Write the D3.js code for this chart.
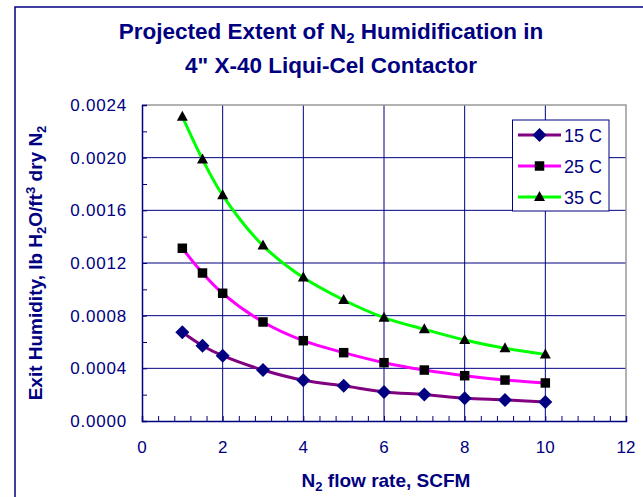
<!DOCTYPE html>
<html><head><meta charset="utf-8">
<script src="https://cdn.jsdelivr.net/npm/d3@7"></script>
<style>
html,body{margin:0;padding:0;background:#fff;}
svg{display:block;font-family:Arial,"Liberation Sans",sans-serif;}
</style></head>
<body>
<svg id="c" width="643" height="497"></svg>
<script>
const flowRates = [1, 1.5, 2, 3, 4, 5, 6, 7, 8, 9, 10];
const seriesNames = ["15 C", "25 C", "35 C"];
const humid15 = [0.000674, 0.000572, 0.000496, 0.000387, 0.000309, 0.000267, 0.000221, 0.000201, 0.000173, 0.000160, 0.000144];
const humid25 = [0.001312, 0.001124, 0.000970, 0.000752, 0.000610, 0.000519, 0.000443, 0.000387, 0.000344, 0.000311, 0.000289];
const humid35 = [0.002311, 0.001987, 0.001714, 0.001332, 0.001089, 0.000919, 0.000785, 0.000696, 0.000615, 0.000552, 0.000506];
const xTicks = [0, 2, 4, 6, 8, 10, 12];
const yTicks = [0, 0.0004, 0.0008, 0.0012, 0.0016, 0.0020, 0.0024];

const navy = "#000080";
const svg = d3.select("#c");
const L = 142, R = 626, T = 105, B = 421;
const x = d3.scaleLinear().domain([0, 12]).range([L, R]);
const y = d3.scaleLinear().domain([0, 0.0024]).range([B, T]);

// outer frame
svg.append("rect").attr("x", 15).attr("y", 7).attr("width", 700).attr("height", 600)
  .attr("fill", "none").attr("stroke", navy).attr("stroke-width", 1.5);

// gridlines
const g = svg.append("g");
g.selectAll(".hg").data(yTicks.filter(d => d > 0 && d < 0.0024)).join("line")
  .attr("x1", L).attr("x2", R).attr("y1", d => y(d)).attr("y2", d => y(d))
  .attr("stroke", navy).attr("stroke-width", 1);
g.selectAll(".vg").data(xTicks.filter(d => d > 0 && d < 12)).join("line")
  .attr("y1", T).attr("y2", B).attr("x1", d => x(d)).attr("x2", d => x(d))
  .attr("stroke", navy).attr("stroke-width", 1);
// top/right border gray
svg.append("path").attr("d", `M${L},${T}H${R}V${B}`).attr("fill", "none")
  .attr("stroke", "#999").attr("stroke-width", 1.5);

// axes
const xAxis = d3.axisBottom(x).tickValues(d3.range(0, 12.01, 0.4)).tickSize(-5).tickFormat("");
svg.append("g").attr("transform", `translate(0,${B})`).call(xAxis)
  .call(a => a.select(".domain").attr("stroke", navy).attr("stroke-width", 1.5))
  .call(a => a.selectAll(".tick line").attr("stroke", navy));
const yAxis = d3.axisLeft(y).tickValues(d3.range(0, 0.00241, 0.0002)).tickSize(-5).tickFormat("");
svg.append("g").attr("transform", `translate(${L},0)`).call(yAxis)
  .call(a => a.select(".domain").attr("stroke", navy).attr("stroke-width", 1.5))
  .call(a => a.selectAll(".tick line").attr("stroke", navy));

// tick labels
svg.append("g").selectAll("text").data(xTicks).join("text")
  .attr("x", d => x(d)).attr("y", 453).attr("text-anchor", "middle")
  .attr("font-size", 17).attr("fill", navy).text(d => d);
svg.append("g").selectAll("text").data(yTicks).join("text")
  .attr("x", 127).attr("y", d => y(d) + 6).attr("text-anchor", "end")
  .attr("font-size", 17).attr("fill", navy).attr("letter-spacing", 0.8).text(d => d.toFixed(4));

// series
const series = [
  {name: seriesNames[0], vals: humid15, line: "#800080", mark: "diamond", fill: navy},
  {name: seriesNames[1], vals: humid25, line: "#ff00ff", mark: "square", fill: "#000"},
  {name: seriesNames[2], vals: humid35, line: "#00ff00", mark: "triangle", fill: "#000"}
];
function marker(sel, s) {
  if (s.mark === "diamond") {
    sel.append("path").attr("d", "M0,-7L7,0L0,7L-7,0Z").attr("fill", s.fill);
  } else if (s.mark === "square") {
    sel.append("path").attr("d", d3.symbol(d3.symbolSquare, 90)()).attr("fill", s.fill);
  } else {
    sel.append("path").attr("d", "M0,-6L5.5,4L-5.5,4Z").attr("fill", s.fill);
  }
}
const line = d3.line().x(d => x(d[0])).y(d => y(d[1])).curve(d3.curveCatmullRom.alpha(0.5));
series.forEach(s => {
  const pts = flowRates.map((f, i) => [f, s.vals[i]]);
  svg.append("path").datum(pts).attr("d", line).attr("fill", "none")
    .attr("stroke", s.line).attr("stroke-width", 3);
  pts.forEach(p => {
    const m = svg.append("g").attr("transform", `translate(${x(p[0])},${y(p[1])})`);
    marker(m, s);
  });
});

// legend
const lg = svg.append("g");
lg.append("rect").attr("x", 512.5).attr("y", 120).attr("width", 96.5).attr("height", 91)
  .attr("fill", "#fff").attr("stroke", navy).attr("stroke-width", 1);
series.forEach((s, i) => {
  const ly = 135 + i * 31;
  lg.append("line").attr("x1", 518).attr("x2", 561).attr("y1", ly).attr("y2", ly)
    .attr("stroke", s.line).attr("stroke-width", 3);
  const m = lg.append("g").attr("transform", `translate(539.5,${ly})`);
  marker(m, s);
  lg.append("text").attr("x", 564).attr("y", ly + 6.5).attr("font-size", 18)
    .attr("fill", navy).text(s.name);
});

// titles
const t = svg.append("text").attr("x", 331).attr("y", 39).attr("text-anchor", "middle")
  .attr("font-size", 22.5).attr("font-weight", "bold").attr("fill", navy);
t.append("tspan").text("Projected Extent of N");
t.append("tspan").attr("font-size", 15).attr("dy", 4).text("2");
t.append("tspan").attr("dy", -4).text(" Humidification in");
svg.append("text").attr("x", 331).attr("y", 73).attr("text-anchor", "middle")
  .attr("font-size", 22.5).attr("font-weight", "bold").attr("fill", navy)
  .text("4\" X-40 Liqui-Cel Contactor");

const xt = svg.append("text").attr("x", 386).attr("y", 487).attr("text-anchor", "middle")
  .attr("font-size", 19).attr("font-weight", "bold").attr("fill", navy);
xt.append("tspan").text("N");
xt.append("tspan").attr("font-size", 13).attr("dy", 4).text("2");
xt.append("tspan").attr("dy", -4).text(" flow rate, SCFM");

const yt = svg.append("text").attr("transform", "translate(42,263) rotate(-90)")
  .attr("text-anchor", "middle").attr("font-size", 19).attr("font-weight", "bold").attr("fill", navy);
yt.append("tspan").text("Exit Humidity, lb H");
yt.append("tspan").attr("font-size", 13).attr("dy", 4).text("2");
yt.append("tspan").attr("dy", -4).text("O/ft");
yt.append("tspan").attr("font-size", 13).attr("dy", -7).text("3");
yt.append("tspan").attr("dy", 7).text(" dry N");
yt.append("tspan").attr("font-size", 13).attr("dy", 4).text("2");
</script>
</body></html>
